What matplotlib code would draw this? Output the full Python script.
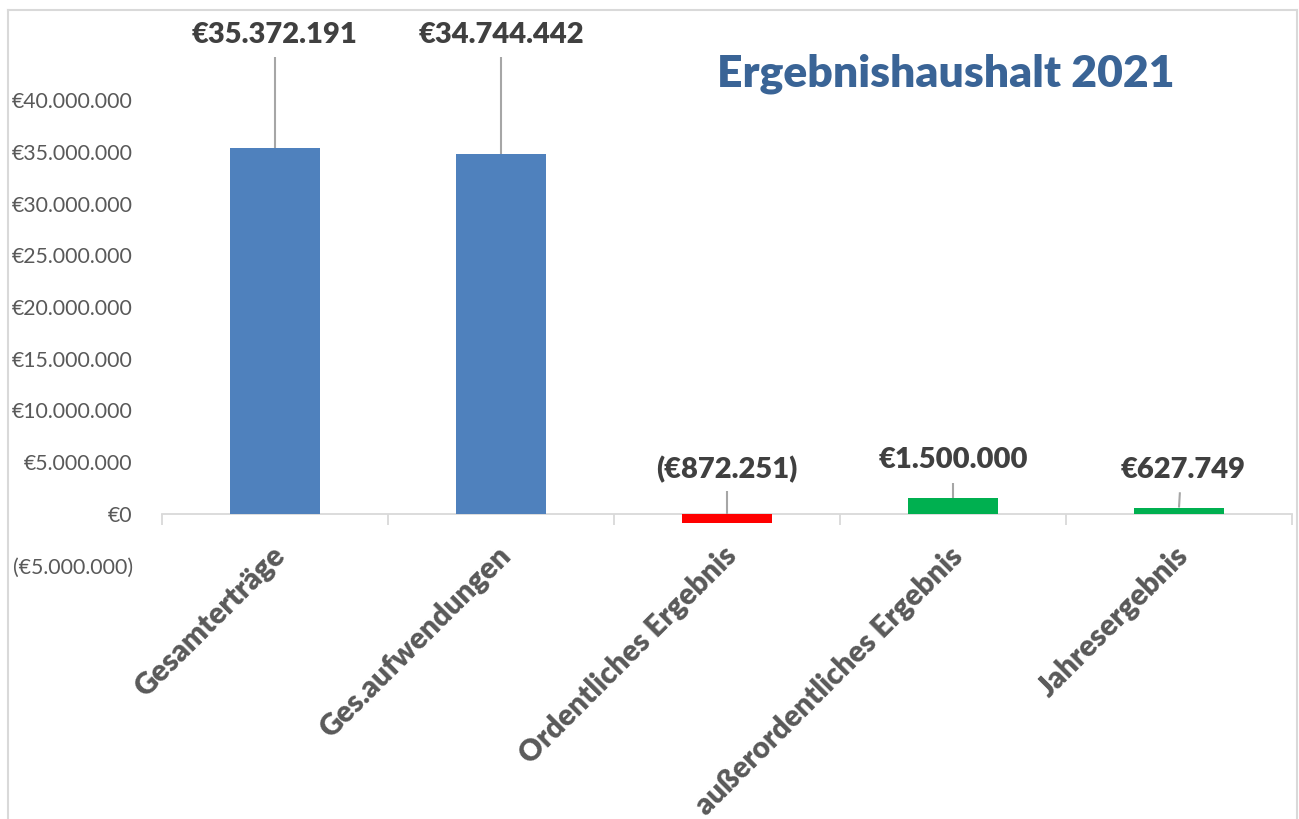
import numpy as np
import matplotlib.pyplot as plt
import matplotlib.transforms as mtransforms
from matplotlib.lines import Line2D
from matplotlib.ticker import FuncFormatter, FixedLocator

plt.rcParams['font.family'] = ['Lato', 'DejaVu Sans']

# data
categories = ['Gesamterträge', 'Ges.aufwendungen', 'Ordentliches Ergebnis',
              'außerordentliches Ergebnis', 'Jahresergebnis']
values = [35372191, 34744442, -872251, 1500000, 627749]
bar_colors = ['#4F81BD', '#4F81BD', '#FF0000', '#00B050', '#00B050']
yticks = np.arange(-5000000, 40000001, 5000000)

# where the data labels sit (label centre x offset in categories, y in data units)
label_dx = [0.0, 0.0, 0.0, 0.0, 0.02]
label_y = [46300000, 46300000, 4250000, 5220000, 4250000]
leader_top = [44150000, 44150000, 2200000, 2950000, 2100000]

TXT = '#404040'
AX = '#595959'
GRID = '#D9D9D9'
HEAVY = 'heavy'


def euro(v, pos=None):
    s = '€{:,.0f}'.format(abs(v)).replace(',', '.')
    return '({})'.format(s) if v < 0 else s


fig = plt.figure(figsize=(12.99, 8.19), dpi=100)
ax = fig.add_axes([162/1299, 1 - 565.75/819, 1130/1299, 517.5/819])

x = np.arange(len(categories))
ax.bar(x, values, width=0.4, color=bar_colors, zorder=2)

ax.set_xlim(-0.5, len(categories) - 0.5)
ax.set_ylim(-5000000, 45000000)
ax.set_yticks(yticks)
ax.yaxis.set_major_formatter(FuncFormatter(euro))
ax.tick_params(axis='y', length=0, pad=21, labelsize=15.3, labelcolor=AX)

for s in ['left', 'right', 'top']:
    ax.spines[s].set_visible(False)
ax.spines['bottom'].set_position(('data', 0))
ax.spines['bottom'].set_color(GRID)
ax.spines['bottom'].set_linewidth(1.3)
ax.spines['bottom'].set_zorder(1)

ax.set_xticks(x)
ax.set_xticklabels(categories, rotation=45, ha='right', va='center',
                   rotation_mode='anchor', fontsize=21.3, fontweight=HEAVY, color=AX)
ax.xaxis.set_minor_locator(FixedLocator(np.arange(-0.5, len(categories), 1.0)))
ax.tick_params(axis='x', which='major', length=0, pad=27)
ax.tick_params(axis='x', which='minor', length=8, width=1.3, color=GRID, direction='out')
shift = mtransforms.ScaledTranslation(5/100, 0, fig.dpi_scale_trans)
for lab in ax.get_xticklabels():
    lab.set_transform(lab.get_transform() + shift)

# data labels with leader lines
for i, v in enumerate(values):
    bar_end = v if v > 0 else 0
    ax.plot([x[i] + label_dx[i] * 0.2, x[i]], [leader_top[i], bar_end],
            color='#A6A6A6', lw=1.5, zorder=3, solid_capstyle='butt')
    ax.text(x[i] + label_dx[i], label_y[i], euro(v), ha='center', va='center',
            fontsize=21, fontweight=HEAVY, color=TXT, clip_on=False)

fig.text(946/1299, 1 - 86/819, 'Ergebnishaushalt 2021', ha='center', va='baseline',
         fontsize=32, fontweight=HEAVY, color='#3A6496')

# chart border
for xs, ys in [([8, 8], [10, 819]), ([8, 1297], [10, 10]), ([1297, 1297], [10, 819])]:
    fig.add_artist(Line2D([xx/1299 for xx in xs], [1 - yy/819 for yy in ys],
                          color=GRID, lw=1.5, transform=fig.transFigure))

fig.savefig('out.png', dpi=100)
